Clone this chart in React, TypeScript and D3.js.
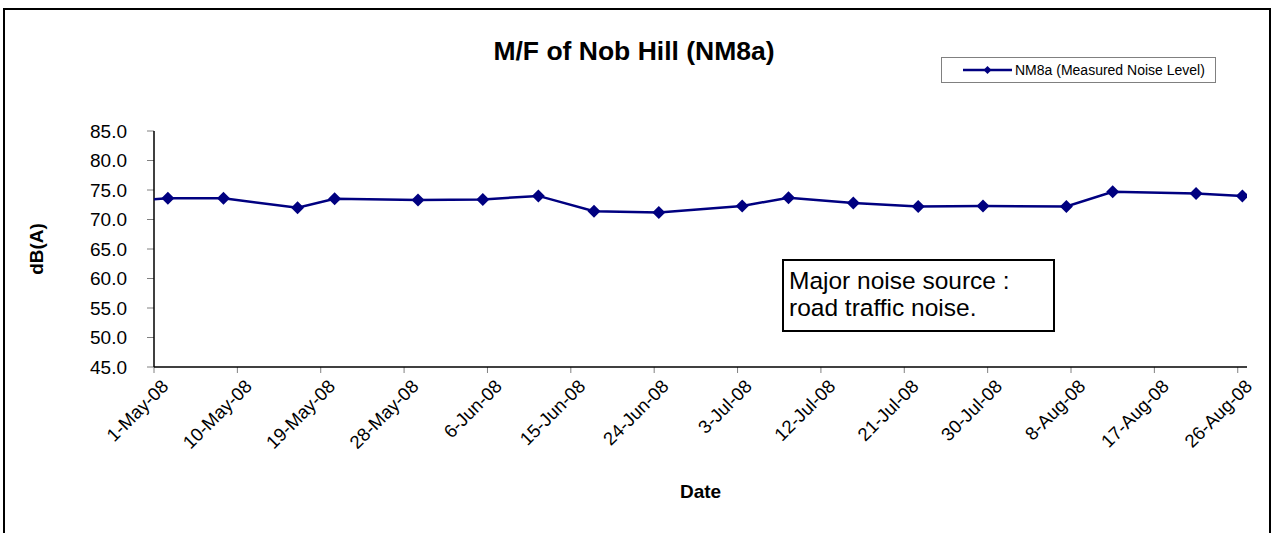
import * as d3 from "d3";

// measured noise level, one reading per visit (first one lies before the axis start and is clipped)
const dates = [
  "2008-04-25", "2008-05-02", "2008-05-08", "2008-05-16", "2008-05-20", "2008-05-29",
  "2008-06-05", "2008-06-11", "2008-06-17", "2008-06-24", "2008-07-03", "2008-07-08",
  "2008-07-15", "2008-07-22", "2008-07-29", "2008-08-07", "2008-08-12", "2008-08-21",
  "2008-08-26",
];
const levels = [
  72.9, 73.6, 73.6, 72.0, 73.5, 73.3,
  73.4, 74.0, 71.4, 71.2, 72.3, 73.7,
  72.8, 72.2, 72.3, 72.2, 74.7, 74.4,
  74.0,
];
const xTickLabels = [
  "1-May-08", "10-May-08", "19-May-08", "28-May-08", "6-Jun-08", "15-Jun-08", "24-Jun-08",
  "3-Jul-08", "12-Jul-08", "21-Jul-08", "30-Jul-08", "8-Aug-08", "17-Aug-08", "26-Aug-08",
];
const yTicks = [45, 50, 55, 60, 65, 70, 75, 80, 85];

const W = 1274;
const H = 533;
const font = "'Liberation Sans', Arial, sans-serif";
const navy = "#000080";

const left = 154;
const right = 1247;
const top = 131;
const bottom = 367;

const parseIso = d3.timeParse("%Y-%m-%d");
const parseTick = d3.timeParse("%d-%b-%y");

const diamond = (r: number) => `M0,${-r}L${r},0L0,${r}L${-r},0Z`;

export default function App() {
  const x = d3
    .scaleTime()
    .domain([parseTick("1-May-08") as Date, parseIso("2008-08-27") as Date])
    .range([left, right]);
  const y = d3.scaleLinear().domain([45, 85]).range([bottom, top]);

  // Excel date axis: each day sits in the middle of its slot
  const px = (s: string) => x(d3.timeHour.offset(parseIso(s) as Date, 12));
  const points = dates.map((d, i) => [px(d), y(levels[i])] as [number, number]);
  const line = d3.line()(points) ?? "";

  return (
    <svg
      width={W}
      height={H}
      style={{ position: "absolute", left: 0, top: 0, background: "#fff" }}
      fontFamily={font}
    >
      <defs>
        <clipPath id="plot">
          <rect x={left} y={top - 10} width={right - left} height={bottom - top + 10} />
        </clipPath>
      </defs>
      <rect x={4} y={9} width={1266} height={530} fill="#fff" stroke="#000" strokeWidth={2} />

      <text x={634} y={60} textAnchor="middle" fontSize={26.5} fontWeight="bold">
        M/F of Nob Hill (NM8a)
      </text>

      {/* y axis */}
      {yTicks.map((t) => (
        <g key={t}>
          <line x1={left - 7} x2={left} y1={y(t)} y2={y(t)} stroke="#808080" />
          <text x={127} y={y(t)} dy="0.35em" textAnchor="end" fontSize={19}>
            {t.toFixed(1)}
          </text>
        </g>
      ))}
      <line x1={left} x2={left} y1={top} y2={bottom} stroke="#000" strokeWidth={1.5} />

      {/* x axis */}
      {xTickLabels.map((lab) => {
        const tx = x(parseTick(lab) as Date);
        return (
          <g key={lab}>
            <line x1={tx} x2={tx} y1={bottom} y2={bottom + 6} stroke="#808080" />
            <text
              transform={`translate(${tx + 11},${bottom + 16}) rotate(-45)`}
              textAnchor="end"
              dy="0.35em"
              fontSize={18.5}
            >
              {lab}
            </text>
          </g>
        );
      })}
      <line x1={left} x2={right} y1={bottom} y2={bottom} stroke="#000" strokeWidth={1.5} />

      <text transform={`translate(43,${(top + bottom) / 2}) rotate(-90)`} textAnchor="middle" fontSize={19} fontWeight="bold">
        dB(A)
      </text>
      <text x={(left + right) / 2} y={498} textAnchor="middle" fontSize={19} fontWeight="bold">
        Date
      </text>

      {/* series */}
      <g clipPath="url(#plot)">
        <path d={line} fill="none" stroke={navy} strokeWidth={2.5} />
        {points.map(([cx, cy], i) =>
          cx >= left ? <path key={i} d={diamond(6.5)} transform={`translate(${cx},${cy})`} fill={navy} /> : null
        )}
      </g>

      {/* legend */}
      <rect x={941.5} y={57.5} width={274} height={25} fill="#fff" stroke="#808080" />
      <line x1={963} x2={1012} y1={70} y2={70} stroke={navy} strokeWidth={2.5} />
      <path d={diamond(4)} transform="translate(987.5,70)" fill={navy} />
      <text x={1015} y={70} dy="0.35em" fontSize={14}>
        NM8a (Measured Noise Level)
      </text>

      {/* note */}
      <rect x={783} y={260} width={271} height={71} fill="#fff" stroke="#000" strokeWidth={2} />
      <text x={789} y={289} fontSize={24.5}>
        Major noise source :
      </text>
      <text x={789} y={316} fontSize={24.5}>
        road traffic noise.
      </text>
    </svg>
  );
}
